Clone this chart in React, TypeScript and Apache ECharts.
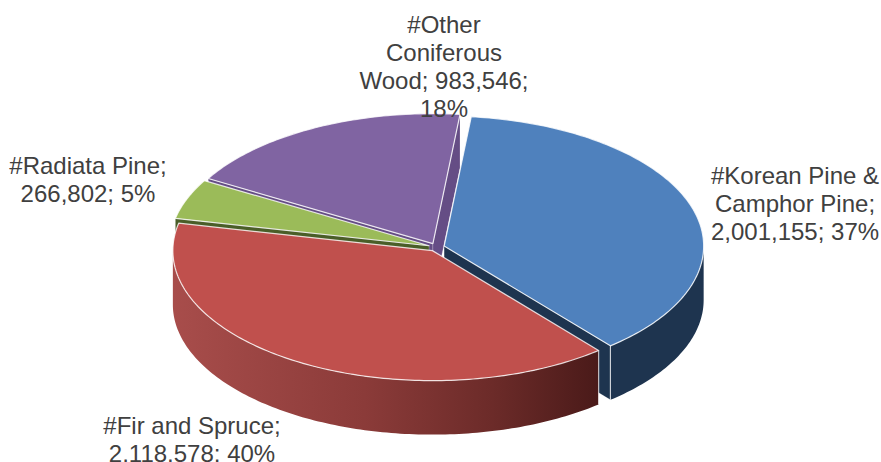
import React, { useEffect, useRef } from "react";
import * as echarts from "echarts";

const categories = ["#Korean Pine & Camphor Pine", "#Fir and Spruce", "#Radiata Pine", "#Other Coniferous Wood"];
const values = [2001155, 2118578, 266802, 983546];
const percents = ["37%", "40%", "5%", "18%"];
const labelBreaks = [
  ["#Korean Pine &", "Camphor Pine;", "2,001,155; 37%"],
  ["#Fir and Spruce;", "2,118,578; 40%"],
  ["#Radiata Pine;", "266,802; 5%"],
  ["#Other", "Coniferous", "Wood; 983,546;", "18%"],
];

const topColors = ["#4f81bd", "#c0504d", "#9bbb59", "#8064a2"];
const wallColors = ["#1e344f", "#7a3230", "#4a5e28", "#654d85"];
const labelCentre = [[795, 161], [192, 411], [88, 151], [444, 10]];
const paintOrder = [2, 3, 1, 0];

const CX = 436.5, CY = 247.2, RX = 259.5, RY = 130, DEPTH = 54, EXPLODE = 8, START = 6;
const rad = (d: number) => (d * Math.PI) / 180;

function App() {
  const ref = useRef<HTMLDivElement>(null);
  useEffect(() => {
    document.body.style.margin = "0";
    const chart = echarts.init(ref.current!, undefined, { renderer: "svg" });
    const total = values.reduce((a, b) => a + b, 0);
    const stroke = "rgba(255,255,255,0.8)";

    const renderItem = (params: any) => {
      const i = params.dataIndex;
      const before = values.slice(0, i).reduce((a, b) => a + b, 0);
      const a0 = START + (before / total) * 360;
      const a1 = a0 + (values[i] / total) * 360;
      const mid = (a0 + a1) / 2;
      const ox = CX + EXPLODE * Math.sin(rad(mid));
      const oy = CY - EXPLODE * Math.cos(rad(mid)) * 0.5;
      const pt = (a: number, dz = 0) => [ox + RX * Math.sin(rad(a)), oy - RY * Math.cos(rad(a)) + dz];
      const arc = (from: number, to: number, dz = 0) => {
        const n = Math.max(2, Math.ceil(Math.abs(to - from)));
        return Array.from({ length: n + 1 }, (_, k) => pt(from + ((to - from) * k) / n, dz));
      };
      const base = paintOrder[i] * 10;
      const children: any[] = [];

      // cut faces that look towards the viewer
      [[a0, -1], [a1, 1]].forEach(([a, s]) => {
        if (s * Math.sin(rad(a)) > 0) {
          children.push({
            type: "polygon",
            z2: base,
            shape: { points: [[ox, oy], pt(a), pt(a, DEPTH), [ox, oy + DEPTH]] },
            style: { fill: wallColors[i], stroke: "rgba(255,255,255,0.35)", lineWidth: 0.6 },
          });
        }
      });

      // outer rim on the near half of the ellipse
      const f = Math.max(a0, 90), t = Math.min(a1, 270);
      if (t > f) {
        const fill =
          i === 1
            ? new echarts.graphic.LinearGradient(0, 0, 1, 0, [
                { offset: 0, color: "#a84d4b" },
                { offset: 0.45, color: "#8b3b39" },
                { offset: 0.75, color: "#6c2b29" },
                { offset: 1, color: "#4a1a19" },
              ])
            : wallColors[i];
        children.push({
          type: "polygon",
          z2: base + 1,
          shape: { points: [...arc(f, t), ...arc(t, f, DEPTH)] },
          style: { fill },
        });
        // bright vertical seam at the corner of the rim
        const seam = i === 0 ? t - 0 : f;
        const p = pt(seam);
        children.push({
          type: "line",
          z2: base + 2,
          shape: { x1: p[0], y1: p[1], x2: p[0], y2: p[1] + DEPTH },
          style: { stroke: "rgba(255,255,255,0.7)", lineWidth: 1.2 },
        });
      }

      // top face
      children.push({
        type: "polygon",
        z2: base + 3,
        shape: { points: [[ox, oy], ...arc(a0, a1)] },
        style: { fill: topColors[i], stroke, lineWidth: 1.2, lineJoin: "round" },
      });

      // data label
      children.push({
        type: "text",
        z2: 100,
        x: labelCentre[i][0],
        y: labelCentre[i][1],
        style: {
          text: labelBreaks[i].join("\n"),
          fill: "#404040",
          font: '24px "Liberation Sans", Arial, sans-serif',
          lineHeight: 28,
          align: "center",
          verticalAlign: "top",
        },
      });
      return { type: "group", children };
    };

    chart.setOption({
      animation: false,
      backgroundColor: "#ffffff",
      series: [
        {
          type: "custom",
          coordinateSystem: "none",
          silent: true,
          clip: false,
          renderItem,
          data: categories.map((name, k) => ({ name, value: [values[k], percents[k]] })),
        },
      ],
    });
    return () => chart.dispose();
  }, []);
  return <div ref={ref} style={{ width: 881, height: 462, overflow: "hidden" }} />;
}

export default App;
